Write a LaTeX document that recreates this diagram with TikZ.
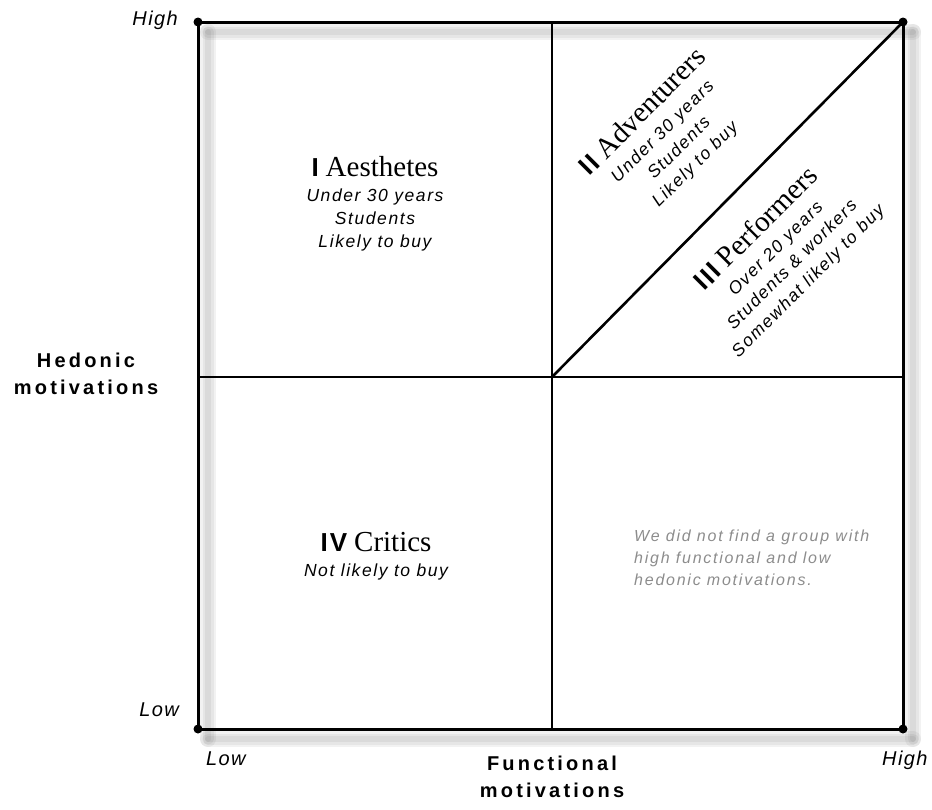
\documentclass[tikz,border=0pt]{standalone}
\usepackage{fontspec}
\setmainfont{Liberation Serif}
\setsansfont{Liberation Sans}
\newfontfamily\notefont[LetterSpace=9]{Liberation Sans}
\newfontfamily\graynotefont[LetterSpace=11]{Liberation Sans}
\newfontfamily\axisfont[LetterSpace=16]{Liberation Sans}
\newfontfamily\tickfont[LetterSpace=7]{Liberation Sans}
\newfontfamily\numfont[LetterSpace=8]{Liberation Sans}
\usetikzlibrary{positioning,calc}

% group heading: bold numeral + serif name
\newcommand{\grouptitle}[2]{{\numfont\fontsize{26}{26}\selectfont\bfseries\upshape #1}\hspace{7pt}{\rmfamily\fontsize{29}{29}\selectfont\upshape #2}}

\begin{document}
\begin{tikzpicture}[x=1pt,y=-1pt,
  frame/.style={line width=3pt},
  divider/.style={line width=2.6pt},
  blur/.style={line width=#1,line cap=round,draw=black,opacity=0.05},
  corner/.style={circle,fill=black,inner sep=0pt,minimum size=9pt},
  group/.style={align=center,inner sep=0pt,font=\notefont\fontsize{17.5}{23}\selectfont\itshape},
  note/.style={align=left,inner sep=0pt,text=black!45,font=\graynotefont\fontsize{16}{22}\selectfont\itshape},
  axis/.style={align=center,inner sep=0pt,font=\axisfont\fontsize{20}{27}\selectfont\bfseries},
  tick/.style={inner sep=0pt,font=\tickfont\fontsize{20}{24}\selectfont\itshape}]
  \useasboundingbox (0,0) rectangle (932,809);

  \coordinate (tl) at (198,22);
  \coordinate (tr) at (903,22);
  \coordinate (bl) at (198,729);
  \coordinate (br) at (903,729);
  \coordinate (mt) at (552,22);
  \coordinate (mb) at (552,729);
  \coordinate (ml) at (198,377);
  \coordinate (mr) at (903,377);
  \coordinate (c) at (552,377);

  % soft shadow of the frame
  \foreach \a/\b in {tl/tr,tr/br,bl/br,tl/bl}
    \foreach \w in {16,11,6}
      \draw[blur=\w pt] ($(\a)+(10,10)$) -- ($(\b)+(10,10)$);

  \draw[frame] (tl) -- (tr) -- (br) -- (bl) -- cycle;
  \draw[divider] (mt) -- (mb);
  \draw[divider] (ml) -- (mr);
  \draw[divider] (c) -- (tr);
  \foreach \p in {tl,tr,bl,br}
    \node[corner] (dot-\p) at (\p) {};

  % segments
  \node[group] (aesthetes) at (375,204) {\grouptitle{I}{Aesthetes}\\[2pt] Under 30 years\\ Students\\ Likely to buy};
  \node[group,rotate=45] (adventurers) at (668,137) {\grouptitle{II}{Adventurers}\\[2pt] Under 30 years\\ Students\\ Likely to buy};
  \node[group,rotate=45] (performers) at (781,254) {\grouptitle{III}{Performers}\\[2pt] Over 20 years\\ Students \& workers\\ Somewhat likely to buy};
  \node[group] (critics) at (376,556) {\grouptitle{IV}{Critics}\\[2pt] Not likely to buy};
  \node[note,anchor=west] (nogroup) at (634,558) {We did not find a group with\\ high functional and low\\ hedonic motivations.};

  % axes
  \node[axis] (hedonic) at (86,374) {Hedonic\\ motivations};
  \node[axis] (functional) at (552,777) {Functional\\ motivations};
  \node[tick,anchor=base east] (yhigh) at (178,25) {High};
  \node[tick,anchor=base east] (ylow) at (179,716) {Low};
  \node[tick,anchor=base west] (xlow) at (206,765) {Low};
  \node[tick,anchor=base west] (xhigh) at (882,765) {High};
\end{tikzpicture}
\end{document}
